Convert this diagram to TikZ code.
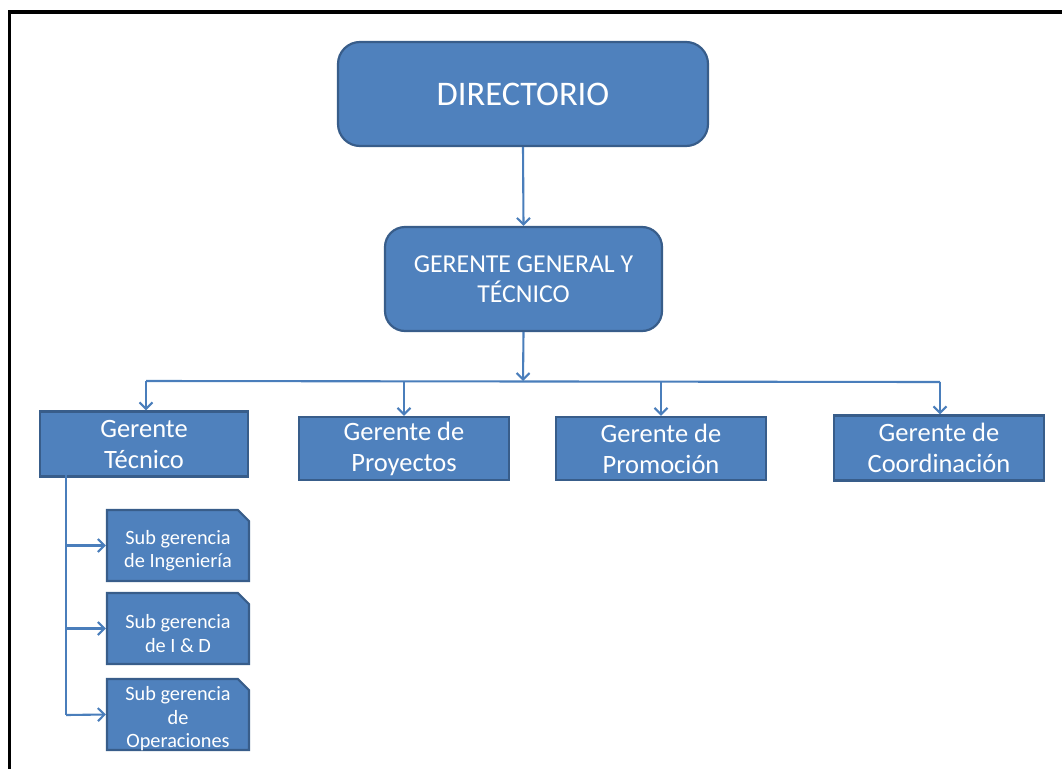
\documentclass[tikz,border=0pt]{standalone}
\usepackage{fontspec}
\setmainfont{Carlito}
\usetikzlibrary{arrows.meta,shapes.misc}
\definecolor{boxfill}{HTML}{4F81BD}
\definecolor{boxline}{HTML}{385D8A}
\definecolor{conn}{HTML}{4A7EBB}
\newcommand{\downstrut}{\rule{0pt}{24pt}}
\tikzset{
  rbox/.style={draw=boxline, fill=boxfill, line width=2.2pt, rounded corners=20pt, text=white, align=center, inner sep=0pt},
  gbox/.style={draw=boxline, fill=boxfill, line width=2.2pt, text=white, align=center, inner sep=0pt, minimum width=210pt, minimum height=63pt, font=\fontsize{26.5}{31}\selectfont},
  sbox/.style={chamfered rectangle, chamfered rectangle corners=north east, chamfered rectangle xsep=8pt, draw=boxline, fill=boxfill, line width=2.2pt, text=white, align=center, inner sep=0pt, minimum width=142pt, minimum height=71pt, font=\fontsize{20.3}{23.5}\selectfont},
  conn/.style={draw=conn, line width=2.1pt},
  arr/.style={conn, -{Straight Barb[length=6.5pt,width=13pt,line width=2.1pt]}},
}
\begin{document}
\begin{tikzpicture}[x=1pt,y=-1pt]
\useasboundingbox (0,0) rectangle (1062,768);
% frame
\draw[line width=3.5pt, line cap=rect] (9.5,770) -- (9.5,12) -- (1064,12);
% top boxes
\node[rbox, minimum width=370pt, minimum height=104pt, rounded corners=22pt, font=\fontsize{34.5}{40}\selectfont] (dir) at (523,94) {DIRECTORIO};
\node[rbox, minimum width=277pt, minimum height=104pt, font=\fontsize{25.8}{30}\selectfont] (gg) at (523.5,279) {GERENTE GENERAL Y\\TÉCNICO};
% level 2
\node[gbox, minimum width=208pt, minimum height=65pt] (gt) at (144,444) {Gerente\\Técnico};
\node[gbox] (gp) at (404,448.5) {Gerente de\\Proyectos};
\node[gbox] (gpr) at (661,448.5) {Gerente de\\Promoción};
\node[gbox, minimum height=65pt] (gc) at (939,448) {Gerente de\\Coordinación};
% sub boxes
\node[sbox] (s1) at (178,545.5) {\downstrut Sub gerencia\\de Ingeniería};
\node[sbox] (s2) at (178,628.5) {\downstrut Sub gerencia\\de I \& D};
\node[sbox] (s3) at (178,714.5) {\raisebox{-10pt}[22pt][22pt]{\begin{tabular}{@{}c@{}}Sub gerencia\\de\\Operaciones\end{tabular}}};
% connectors
\draw[arr] (dir.south) -- (gg.north);
\coordinate (busC) at (523,381);
\coordinate (busL) at (146,381);
\coordinate (busR) at (940,382);
\draw[arr] (gg.south) -- (busC);
\draw[conn] (busL) -- (busR);
\draw[arr] (busL) -- (busL |- gt.north);
\draw[arr] (gp.north |- busC) -- (gp.north);
\draw[arr] (gpr.north |- busC) -- (gpr.north);
\draw[arr] (busR) -- (busR |- gc.north);
\coordinate (tv) at (66,475);
\coordinate (tb) at (66,715);
\draw[conn] (tv) -- (tb);
\draw[arr] (tv |- s1.west) -- (s1.west);
\draw[arr] (tv |- s2.west) -- (s2.west);
\draw[arr] (tb) -- (s3.west);
\end{tikzpicture}
\end{document}
